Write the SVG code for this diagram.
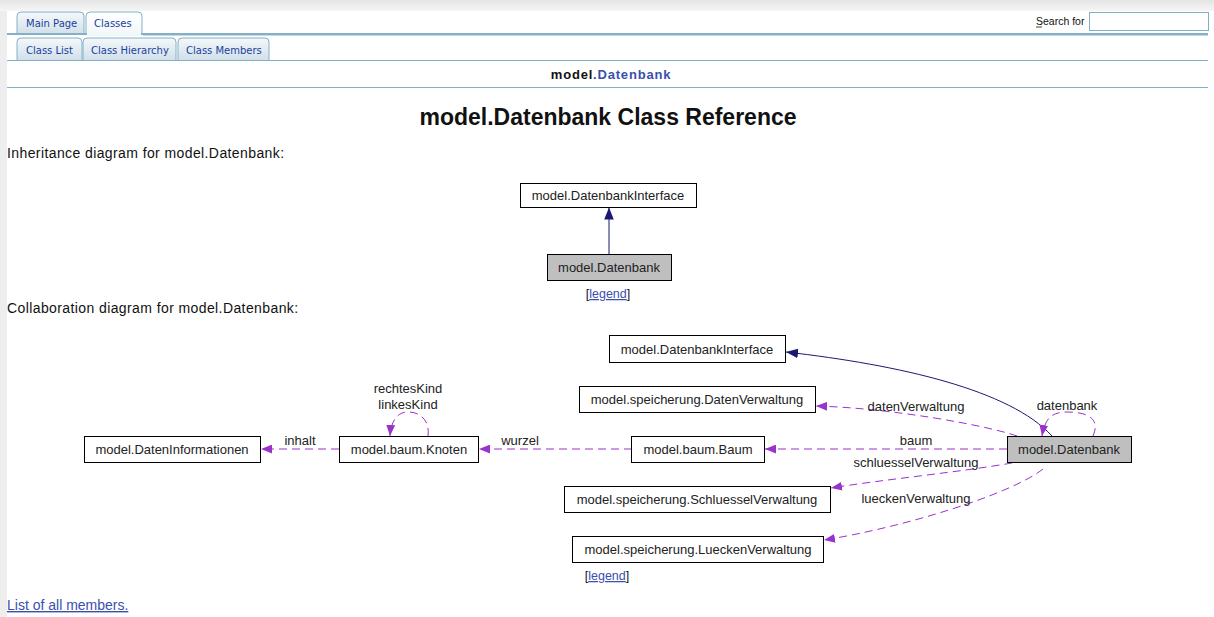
<svg xmlns="http://www.w3.org/2000/svg" width="1214" height="617" viewBox="0 0 1214 617">
  <style>
    .page { font-family: "Liberation Sans", Arial, sans-serif; }
    .tabtxt { font-family: "DejaVu Sans", Verdana, sans-serif; font-size: 10px; fill: #1A419D; }
    .node rect { fill: #ffffff; stroke: #000000; stroke-width: 1; }
    .node.focus rect { fill: #bfbfbf; }
    .node text { font-family: "Liberation Sans", Helvetica, sans-serif; font-size: 13px; fill: #222222; text-anchor: middle; }
    .elabel { font-family: "Liberation Sans", Helvetica, sans-serif; font-size: 13px; fill: #222222; text-anchor: middle; }
    .usage { fill: none; stroke: #9a32cd; stroke-width: 1; stroke-dasharray: 8 5; }
    .inherit { fill: none; stroke: #191970; stroke-width: 1; }
    .link { fill: #3a4fb0; text-decoration: underline; }
    .body { font-size: 14px; letter-spacing: 0.4px; fill: #111111; }
  </style>
  <defs>
    <linearGradient id="shadowTop" x1="0" y1="0" x2="0" y2="1">
      <stop offset="0" stop-color="#e4e4e4"/>
      <stop offset="1" stop-color="#f6f6f6"/>
    </linearGradient>
    <linearGradient id="tabBg" x1="0" y1="0" x2="0" y2="1">
      <stop offset="0" stop-color="#f4f8fa"/>
      <stop offset="1" stop-color="#d2e0ea"/>
    </linearGradient>
    <linearGradient id="tabActive" x1="0" y1="0" x2="0" y2="1">
      <stop offset="0" stop-color="#ffffff"/>
      <stop offset="1" stop-color="#f2f7fa"/>
    </linearGradient>
    <marker id="headPurple" viewBox="0 0 10 8" refX="10" refY="4" markerWidth="11" markerHeight="9" markerUnits="userSpaceOnUse" orient="auto">
      <path d="M0,0 L10,4 L0,8 z" fill="#9a32cd"/>
    </marker>
    <marker id="headNavy" viewBox="0 0 10 8" refX="10" refY="4" markerWidth="12" markerHeight="10" markerUnits="userSpaceOnUse" orient="auto">
      <path d="M0,0 L10,4 L0,8 z" fill="#191970"/>
    </marker>
  </defs>

  <!-- window frame -->
  <rect x="0" y="0" width="1214" height="617" fill="#eeeeee"/>
  <rect x="0" y="0" width="1214" height="11" fill="url(#shadowTop)"/>
  <rect x="7" y="11" width="1207" height="606" fill="#ffffff"/>

  <!-- navigation tabs, first row -->
  <g id="tabs-main">
    <path d="M17,34 L17,16 Q17,12 21,12 L80,12 Q84,12 84,16 L84,34" fill="url(#tabBg)" stroke="#84b0c7"/>
    <text class="tabtxt" x="26" y="27">Main Page</text>
    <path d="M86,35 L86,16 Q86,12 90,12 L138,12 Q142,12 142,16 L142,35" fill="url(#tabActive)" stroke="#84b0c7"/>
    <text class="tabtxt" x="94" y="27">Classes</text>
  </g>
  <rect x="7" y="33" width="136" height="2" fill="#84b0c7"/>
  <rect x="143" y="33" width="1065" height="2" fill="#84b0c7"/>
  <rect x="143" y="35" width="1065" height="1" fill="#c4dbe5"/>
  <rect x="87" y="33" width="54" height="3" fill="#f2f7fa"/>

  <g id="search">
    <text class="page" x="1036" y="25" font-size="10.5" fill="#111111">Search for</text>
    <line x1="1036" y1="27" x2="1042" y2="27" stroke="#111111" stroke-width="0.8"/>
    <rect x="1089.5" y="12.5" width="119" height="18" fill="#ffffff" stroke="#84b0c7"/>
  </g>

  <!-- navigation tabs, second row -->
  <g id="tabs-sub">
    <path d="M17,60 L17,42 Q17,38 21,38 L78,38 Q82,38 82,42 L82,60" fill="url(#tabBg)" stroke="#84b0c7"/>
    <text class="tabtxt" x="26" y="54">Class List</text>
    <path d="M83,60 L83,42 Q83,38 87,38 L172,38 Q176,38 176,42 L176,60" fill="url(#tabBg)" stroke="#84b0c7"/>
    <text class="tabtxt" x="91" y="54">Class Hierarchy</text>
    <path d="M178,60 L178,42 Q178,38 182,38 L265,38 Q269,38 269,42 L269,60" fill="url(#tabBg)" stroke="#84b0c7"/>
    <text class="tabtxt" x="186" y="54">Class Members</text>
  </g>
  <rect x="7" y="60" width="1201" height="1" fill="#84b0c7"/>

  <!-- breadcrumb -->
  <text class="page" x="611" y="79" font-size="13" font-weight="bold" text-anchor="middle" letter-spacing="0.8"><tspan fill="#111111">model</tspan><tspan fill="#3a4fb0">.Datenbank</tspan></text>
  <rect x="7" y="87" width="1201" height="1" fill="#84b0c7"/>

  <!-- heading -->
  <text class="page" x="608" y="125" font-size="23" font-weight="bold" fill="#111111" text-anchor="middle">model.Datenbank Class Reference</text>

  <text class="page body" x="7" y="158">Inheritance diagram for model.Datenbank:</text>

  <!-- inheritance graph -->
  <g id="connectors-inheritance">
    <path class="inherit" d="M609,254 L609,207.5" marker-end="url(#headNavy)"/>
  </g>
  <g id="inh-DatenbankInterface" class="node">
    <rect x="520.5" y="183.5" width="176" height="24"/>
    <text x="608" y="200">model.DatenbankInterface</text>
  </g>
  <g id="inh-Datenbank" class="node focus">
    <rect x="547.5" y="254.5" width="124" height="26"/>
    <text x="609" y="272">model.Datenbank</text>
  </g>
  <text class="page" x="608" y="298" font-size="12.5" text-anchor="middle" fill="#111111">[<tspan class="link">legend</tspan>]</text>

  <text class="page body" x="7" y="313">Collaboration diagram for model.Datenbank:</text>

  <!-- collaboration graph: connectors -->
  <g id="connectors">
    <path class="inherit" d="M1052,436 C1010,390 900,365 786,352" marker-end="url(#headNavy)"/>
    <path class="usage" d="M1093,436 C1100,420 1090,412 1067,412 C1052,412 1045,418 1042,436" marker-end="url(#headPurple)"/>
    <path class="usage" d="M1017,436 C985,425 890,408 816,406" marker-end="url(#headPurple)"/>
    <path class="usage" d="M1007,449 L765,449" marker-end="url(#headPurple)"/>
    <path class="usage" d="M1012,463 C960,472 880,480 831,488" marker-end="url(#headPurple)"/>
    <path class="usage" d="M1043,469 C1010,495 900,528 824,540" marker-end="url(#headPurple)"/>
    <path class="usage" d="M632,449 L479,449" marker-end="url(#headPurple)"/>
    <path class="usage" d="M339,449 L261,449" marker-end="url(#headPurple)"/>
    <path class="usage" d="M428,436 C430,420 420,412 408,412 C398,412 391,420 390,436" marker-end="url(#headPurple)"/>

    <text class="elabel" x="1067" y="410">datenbank</text>
    <text class="elabel" x="916" y="411">datenVerwaltung</text>
    <text class="elabel" x="916" y="445">baum</text>
    <text class="elabel" x="916" y="467">schluesselVerwaltung</text>
    <text class="elabel" x="916" y="503">lueckenVerwaltung</text>
    <text class="elabel" x="520" y="445">wurzel</text>
    <text class="elabel" x="300" y="445">inhalt</text>
    <text class="elabel" x="408" y="393">rechtesKind</text>
    <text class="elabel" x="408" y="409">linkesKind</text>
  </g>

  <!-- collaboration graph: nodes -->
  <g id="DatenbankInterface" class="node">
    <rect x="609.5" y="335.5" width="176" height="27"/>
    <text x="697" y="354">model.DatenbankInterface</text>
  </g>
  <g id="DatenVerwaltung" class="node">
    <rect x="579.5" y="386.5" width="236" height="26"/>
    <text x="697" y="404">model.speicherung.DatenVerwaltung</text>
  </g>
  <g id="DatenInformationen" class="node">
    <rect x="84.5" y="436.5" width="176" height="26"/>
    <text x="172" y="454">model.DatenInformationen</text>
  </g>
  <g id="Knoten" class="node">
    <rect x="339.5" y="436.5" width="139" height="26"/>
    <text x="409" y="454">model.baum.Knoten</text>
  </g>
  <g id="Baum" class="node">
    <rect x="631.5" y="436.5" width="133" height="26"/>
    <text x="698" y="454">model.baum.Baum</text>
  </g>
  <g id="Datenbank" class="node focus">
    <rect x="1007.5" y="436.5" width="124" height="26"/>
    <text x="1069" y="454">model.Datenbank</text>
  </g>
  <g id="SchluesselVerwaltung" class="node">
    <rect x="564.5" y="486.5" width="266" height="26"/>
    <text x="697" y="504">model.speicherung.SchluesselVerwaltung</text>
  </g>
  <g id="LueckenVerwaltung" class="node">
    <rect x="572.5" y="536.5" width="251" height="26"/>
    <text x="698" y="554">model.speicherung.LueckenVerwaltung</text>
  </g>

  <text class="page" x="607" y="580" font-size="12.5" text-anchor="middle" fill="#111111">[<tspan class="link">legend</tspan>]</text>

  <text class="page link" x="7" y="610" font-size="14">List of all members.</text>
</svg>
